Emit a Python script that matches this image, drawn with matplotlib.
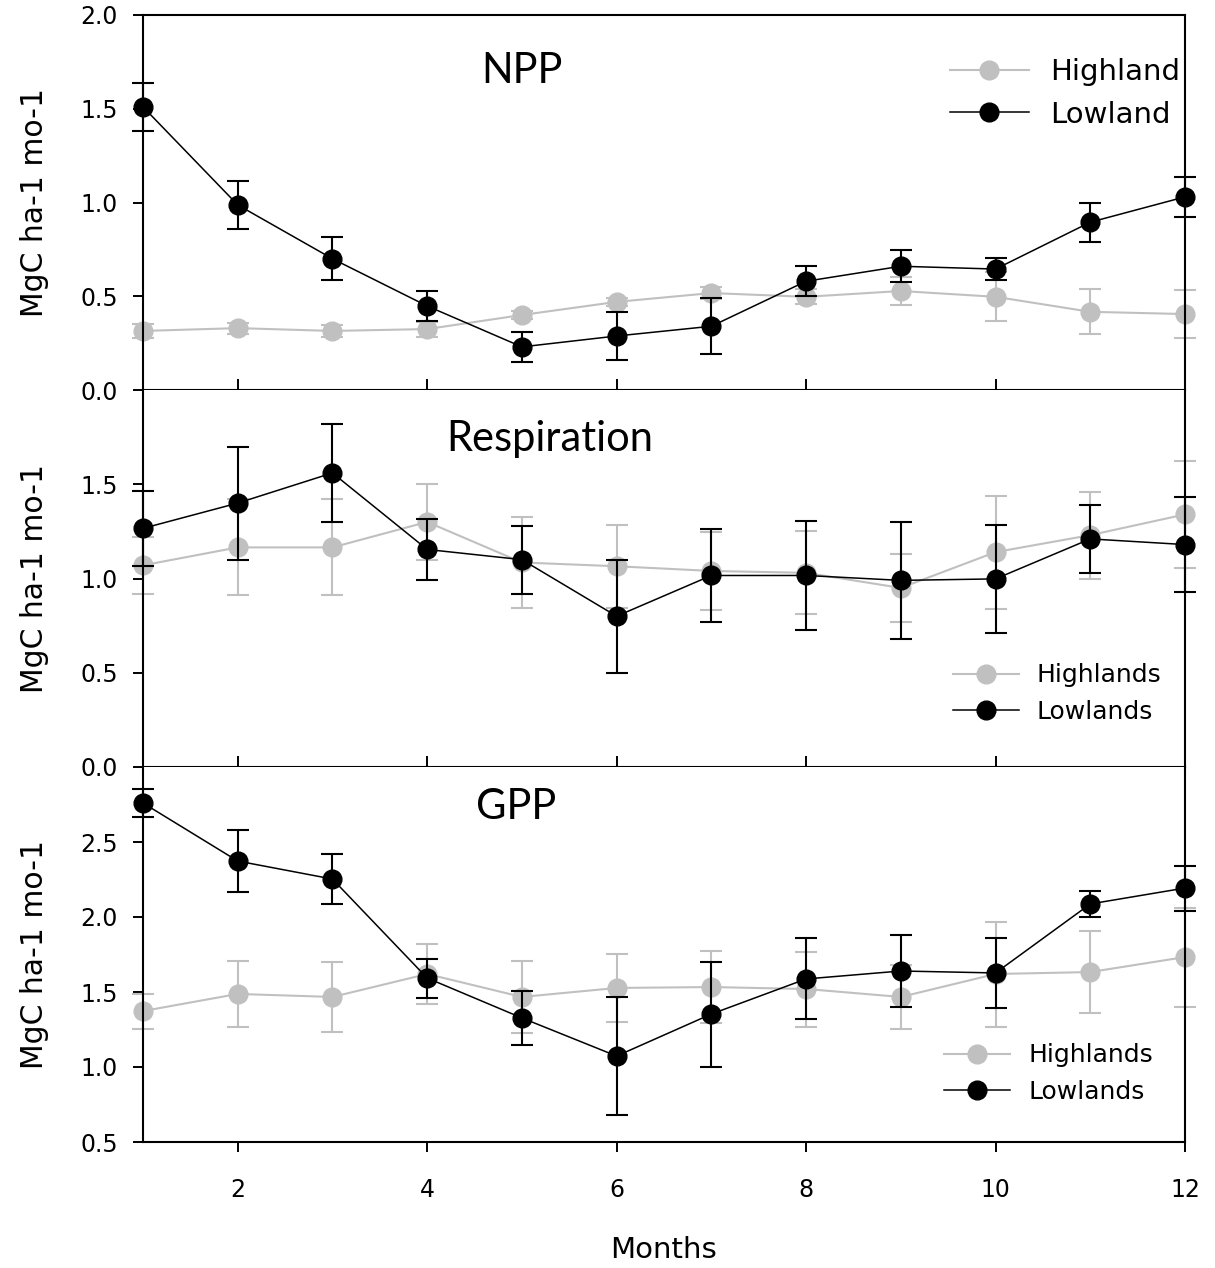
import numpy as np
import matplotlib
matplotlib.use('Agg')
import matplotlib.pyplot as plt
from matplotlib.ticker import FormatStrFormatter

months = np.arange(1, 13)

# NPP
npp_high = [0.315, 0.33, 0.315, 0.325, 0.40, 0.47, 0.517, 0.497, 0.528, 0.497, 0.417, 0.405]
npp_high_err = [0.035, 0.03, 0.03, 0.04, 0.02, 0.02, 0.03, 0.04, 0.075, 0.13, 0.12, 0.13]
npp_low = [1.51, 0.987, 0.70, 0.448, 0.23, 0.288, 0.34, 0.58, 0.66, 0.645, 0.895, 1.03]
npp_low_err = [0.13, 0.13, 0.115, 0.08, 0.08, 0.13, 0.15, 0.08, 0.085, 0.06, 0.105, 0.105]

# Respiration
res_high = [1.07, 1.165, 1.165, 1.30, 1.085, 1.065, 1.04, 1.03, 0.95, 1.14, 1.23, 1.34]
res_high_err = [0.15, 0.255, 0.255, 0.2, 0.24, 0.22, 0.205, 0.22, 0.18, 0.3, 0.23, 0.285]
res_low = [1.266, 1.40, 1.56, 1.154, 1.10, 0.80, 1.016, 1.016, 0.99, 0.998, 1.21, 1.18]
res_low_err = [0.2, 0.3, 0.26, 0.16, 0.18, 0.3, 0.245, 0.29, 0.31, 0.285, 0.18, 0.25]

# GPP
gpp_high = [1.373, 1.487, 1.467, 1.62, 1.467, 1.527, 1.533, 1.52, 1.467, 1.62, 1.633, 1.733]
gpp_high_err = [0.117, 0.22, 0.235, 0.2, 0.24, 0.225, 0.24, 0.25, 0.213, 0.35, 0.275, 0.33]
gpp_low = [2.76, 2.373, 2.253, 1.593, 1.327, 1.073, 1.353, 1.587, 1.64, 1.627, 2.087, 2.193]
gpp_low_err = [0.095, 0.205, 0.165, 0.13, 0.18, 0.395, 0.35, 0.27, 0.24, 0.235, 0.087, 0.15]

grey = '#c0c0c0'
W, H = 1215, 1268
fig = plt.figure(figsize=(W / 100, H / 100), dpi=100)

left, right = 143 / W, 1185 / W
tops = [15, 390, 767]
bots = [390, 767, 1142]

panels = [
    dict(title='NPP', tpos=(0.364, 0.85), hi=npp_high, hie=npp_high_err, lo=npp_low, loe=npp_low_err,
         ylim=(0, 2.0), yticks=[0, 0.5, 1.0, 1.5, 2.0], labels=['Highland', 'Lowland'],
         lfs=21, hl=2.7, lpos=(0.7745, 0.885)),
    dict(title='Respiration', tpos=(0.39, 0.87), hi=res_high, hie=res_high_err, lo=res_low, loe=res_low_err,
         ylim=(0, 2.0), yticks=[0, 0.5, 1.0, 1.5], labels=['Highlands', 'Lowlands'],
         lfs=18, hl=2.64, lpos=(0.777, 0.275)),
    dict(title='GPP', tpos=(0.358, 0.893), hi=gpp_high, hie=gpp_high_err, lo=gpp_low, loe=gpp_low_err,
         ylim=(0.5, 3.0), yticks=[0.5, 1.0, 1.5, 2.0, 2.5], labels=['Highlands', 'Lowlands'],
         lfs=18, hl=2.64, lpos=(0.769, 0.263)),
]

for i, p in enumerate(panels):
    ax = fig.add_axes([left, 1 - bots[i] / H, right - left, (bots[i] - tops[i]) / H])
    ax.errorbar(months, p['hi'], yerr=p['hie'], color=grey, marker='o', ms=13.5, lw=1.5,
                elinewidth=1.5, capsize=8, capthick=1.5, label=p['labels'][0], clip_on=False, zorder=2)
    ax.errorbar(months, p['lo'], yerr=p['loe'], color='black', marker='o', ms=13.5, lw=1.1,
                elinewidth=1.5, capsize=8, capthick=1.5, label=p['labels'][1], clip_on=False, zorder=3)
    ax.set_xlim(1, 12)
    ax.set_ylim(*p['ylim'])
    ax.set_yticks(p['yticks'])
    ax.yaxis.set_major_formatter(FormatStrFormatter('%.1f'))
    ax.set_xticks([2, 4, 6, 8, 10, 12])
    for s in ax.spines.values():
        s.set_linewidth(1.5)
    ax.spines['top'].set_visible(i == 0)
    ax.tick_params(axis='y', direction='out', length=7.2, width=1.4, labelsize=17, pad=11)
    if i < 2:
        ax.tick_params(axis='x', direction='in', length=8, width=1.4, labelbottom=False)
    else:
        ax.tick_params(axis='x', direction='out', length=7.2, width=1.4, labelsize=17, pad=19)
    ax.set_ylabel('MgC ha-1 mo-1', fontsize=21.5)
    ax.yaxis.set_label_coords(-0.09, 0.5)
    ax.text(p['tpos'][0], p['tpos'][1], p['title'], transform=ax.transAxes, ha='center', va='center',
            fontsize=30, family='Lato')
    h, l = ax.get_legend_handles_labels()
    h = [hh[0] for hh in h]
    ax.legend(h, l, loc='upper left', bbox_to_anchor=p['lpos'], frameon=False, fontsize=p['lfs'],
              handlelength=p['hl'], handletextpad=0.72, labelspacing=0.5, borderpad=0, borderaxespad=0)

fig.text(663 / W, 1 - 1250 / H, 'Months', ha='center', va='center', fontsize=21)

fig.savefig('out.png', dpi=100)
